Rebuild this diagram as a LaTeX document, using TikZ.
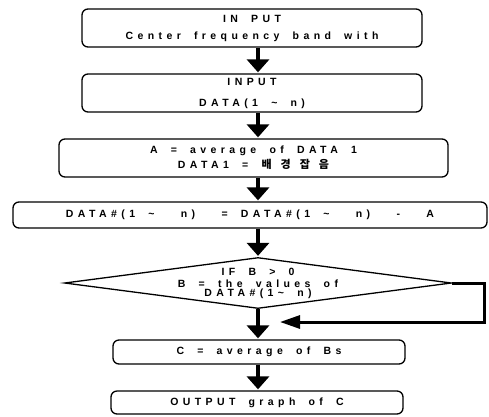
\documentclass[tikz,border=0pt]{standalone}
\usepackage{fontspec}
\setmainfont{Liberation Sans}[LetterSpace=42,WordSpace=1.8]
\newfontfamily\krfont{Noto Sans CJK KR}
\usetikzlibrary{arrows.meta,shapes.geometric}

\tikzset{
  box/.style = {draw, line width=1.3pt, rounded corners=6pt, inner sep=0pt, align=center},
  decision/.style = {draw, diamond, line width=1.3pt, inner sep=0pt},
  flow/.style = {line width=4.5pt, -{Triangle[width=22pt,length=13pt]}, shorten >=1pt},
  back/.style = {line width=3pt, -{Triangle[width=13pt,length=20pt]}},
  label/.style = {align=center, inner sep=0pt}
}
\newcommand\krgap{\hspace{9pt}}

\begin{document}
\begin{tikzpicture}[x=1pt, y=-1pt, font=\bfseries\fontsize{10.5}{12}\selectfont]
  \useasboundingbox (0,0) rectangle (489,416);

  % process boxes
  \node[box, minimum width=340pt, minimum height=38pt] (in1) at (252,28)
    {IN PUT\\[5pt] Center frequency band with};
  \node[box, minimum width=340pt, minimum height=38pt] (in2) at (252,93)
    {INPUT\\[9pt] DATA(1 \textasciitilde{} n)};
  \node[box, minimum width=389pt, minimum height=38pt] (avg) at (253.5,158)
    {A = average of DATA 1\\[3pt] DATA1 = {\krfont\fontsize{11}{12}\selectfont 배\krgap 경\krgap 잡\krgap 음}};
  \node[box, minimum width=474pt, minimum height=26pt] (sub) at (250,215)
    {DATA\#(1 \textasciitilde{} \ n) \ = DATA\#(1 \textasciitilde{} \ n) \ - \ A};

  % decision
  \node[decision, minimum width=387pt, minimum height=51pt] (cond) at (258,283) {};
  \node[label] (condtxt) at (258,283)
    {IF B \textgreater{} 0\\[0pt] B = the values of\\[-3pt] DATA\#(1\textasciitilde{} n)};
  \coordinate (loopend) at (280,322);

  \node[box, minimum width=292pt, minimum height=24pt] (cavg) at (259,352)
    {C = average of Bs};
  \node[box, minimum width=292pt, minimum height=23pt] (out) at (257,402.5)
    {OUTPUT graph of C};

  % connectors
  \draw[flow] (in1.south -| cond.north) -- (in2.north -| cond.north);
  \draw[flow] (in2.south -| cond.north) -- (avg.north -| cond.north);
  \draw[flow] (avg.south -| cond.north) -- (sub.north -| cond.north);
  \draw[flow] (sub.south -| cond.north) -- (cond.north);
  \draw[flow] (cond.south) -- (cavg.north -| cond.north);
  \draw[flow] (cavg.south -| cond.north) -- (out.north -| cond.north);
  \draw[back] (cond.east) -| ++(32,39) -- (loopend);
\end{tikzpicture}
\end{document}
